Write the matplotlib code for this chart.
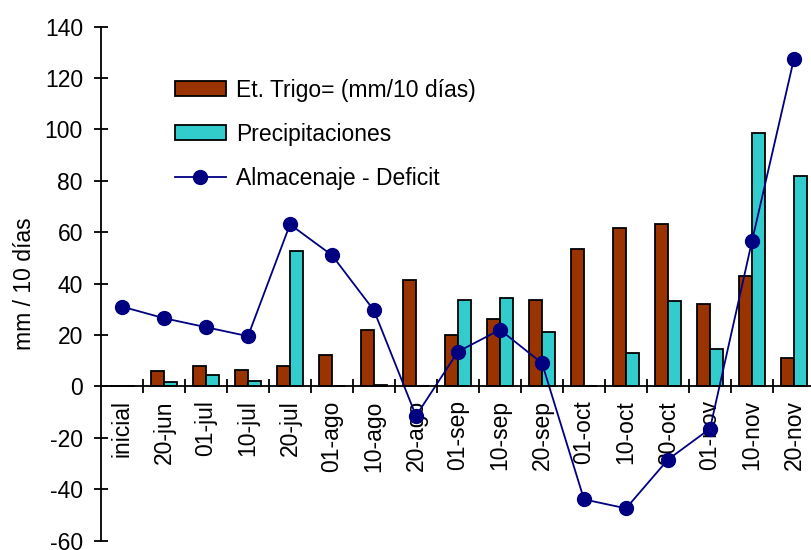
import numpy as np
import matplotlib
matplotlib.use("Agg")
import matplotlib.pyplot as plt

plt.rcParams['font.family'] = ['Liberation Sans', 'DejaVu Sans']
plt.rcParams['axes.unicode_minus'] = False

fechas = ["inicial", "20-jun", "01-jul", "10-jul", "20-jul", "01-ago", "10-ago", "20-ago",
          "01-sep", "10-sep", "20-sep", "01-oct", "10-oct", "20-oct", "01-nov", "10-nov", "20-nov"]
et_trigo = [0, 5.8, 8, 6.4, 8, 12, 22, 41.5, 20, 26, 33.5, 53.5, 61.5, 63, 32, 43, 11]
precipitaciones = [0, 1.5, 4.5, 2.2, 52.5, 0, 0.5, 0, 33.5, 34.5, 21, 0, 13, 33, 14.5, 98.5, 82]
almacenaje = [31, 26.5, 23, 19.5, 63, 51, 29.5, -11.5, 13.5, 22, 9, -44, -47.5, -28.5, -16.5, 56.5, 127.5]

x = np.arange(len(fechas))
w = 0.3
fs = 16.5

fig = plt.figure(figsize=(8.11, 5.5), dpi=100)
ax = fig.add_axes([101/811, 1 - 540.5/550, 714/811, 514/550])

b1 = ax.bar(x - w, et_trigo, w, align='edge', color='#993300', edgecolor='black', linewidth=1.3,
            label='Et. Trigo= (mm/10 días)', zorder=2)
b2 = ax.bar(x, precipitaciones, w, align='edge', color='#33CCCC', edgecolor='black', linewidth=1.3,
            label='Precipitaciones', zorder=2)
l1, = ax.plot(x, almacenaje, color='#000080', marker='o', markersize=10, linewidth=1.3,
              label='Almacenaje - Deficit', zorder=3)

ax.set_xlim(-0.5, len(fechas) - 0.5)
ax.set_ylim(-60, 140)
ax.set_yticks(range(-60, 141, 20))

ax.spines['top'].set_visible(False)
ax.spines['right'].set_visible(False)
ax.spines['bottom'].set_position(('data', 0))
ax.spines['bottom'].set_linewidth(1.3)
ax.spines['left'].set_linewidth(1.3)
ax.spines['bottom'].set_zorder(4)

ax.set_xticks(x)
ax.set_xticklabels(fechas, rotation=90, fontsize=fs)
ax.tick_params(axis='x', which='major', length=0, pad=10)
ax.set_xticks(x[:-1] + 0.5, minor=True)
ax.tick_params(axis='x', which='minor', direction='inout', length=10, width=1.3)
ax.tick_params(axis='y', direction='inout', length=10, width=1.3, labelsize=fs, pad=8)

ax.set_ylabel('mm / 10 días', fontsize=fs, labelpad=6)

ax.legend(handles=[b1, b2, l1], loc='upper left', bbox_to_anchor=(0.216, 0.857),
          bbox_transform=fig.transFigure, frameon=False, fontsize=fs,
          handlelength=2.2, handleheight=0.6, labelspacing=0.92, handletextpad=0.45,
          borderaxespad=0, borderpad=0)

fig.savefig("out.png", dpi=100)
